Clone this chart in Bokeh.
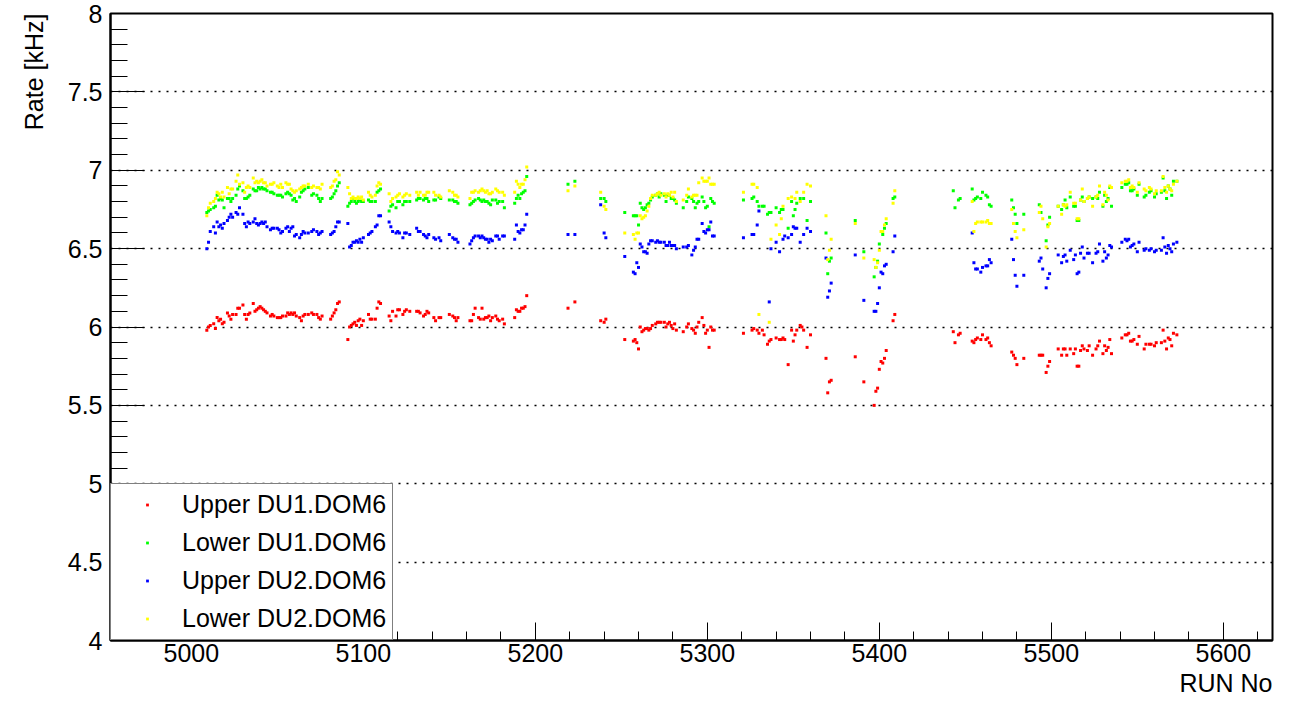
import math
from bokeh.plotting import figure
from bokeh.models import (Range1d, SingleIntervalTicker, NumeralTickFormatter, Title,
                          Legend, LegendItem, ColumnDataSource)
from bokeh.embed import file_html
from bokeh.resources import INLINE

N = None

run_no = [
    5009, 5010, 5011, 5013, 5014, 5015, 5016, 5017, 5018, 5019, 5021, 5022, 5023, 5024, 5026, 5027, 5028, 5030, 5031, 5032,
    5033, 5034, 5036, 5037, 5038, 5039, 5040, 5041, 5042, 5043, 5044, 5046, 5047, 5048, 5050, 5051, 5052, 5053, 5055, 5056,
    5057, 5058, 5059, 5060, 5061, 5063, 5064, 5065, 5066, 5068,
    5070, 5071, 5073, 5074, 5075, 5076,
    5081, 5082, 5083, 5084, 5085, 5086,
    5091, 5092, 5093, 5094, 5095, 5096, 5097, 5098, 5099, 5100,
    5103, 5104, 5105, 5107, 5108, 5109, 5110,
    5115, 5116, 5117, 5119, 5120, 5121, 5123, 5124, 5125, 5127,
    5131, 5132, 5133, 5135, 5136, 5137, 5138,
    5141, 5142, 5144, 5145,
    5150, 5152, 5153, 5154, 5155,
    5162, 5163, 5164, 5165, 5167, 5168, 5169, 5170, 5171, 5172, 5173, 5174, 5175, 5177, 5178, 5179, 5181, 5182,
    5188, 5189, 5190, 5191, 5192, 5193, 5194, 5195,
    5219, 5223,
    5238, 5240, 5241,
    5252, 5257, 5258, 5259, 5260,
    5261, 5262, 5263, 5264, 5265, 5266, 5267, 5268, 5270, 5271, 5272, 5273, 5275, 5276, 5277, 5278, 5279, 5280, 5281, 5282,
    5286, 5288, 5289, 5291, 5292, 5293, 5294, 5295,
    5297, 5298, 5299, 5300, 5301, 5302, 5303, 5304,
    5321, 5326, 5327, 5329, 5330, 5332, 5333, 5335, 5336, 5337, 5340, 5342, 5343, 5344, 5345, 5347, 5349, 5350, 5351, 5352,
    5354, 5355, 5356, 5358, 5360,
    5369, 5370, 5371, 5372,
    5386, 5391,
    5397, 5398, 5399, 5400, 5401, 5402, 5403, 5404, 5408, 5409,
    5443, 5444, 5446, 5447, 5454, 5455, 5456, 5457, 5459, 5460, 5462, 5463, 5464, 5465,
    5477, 5478, 5479, 5480, 5484,
    5493, 5494, 5495, 5497, 5498, 5499, 5504, 5506, 5507, 5508, 5509, 5511, 5513, 5514, 5515, 5516, 5517, 5518, 5519, 5521,
    5522,
    5524, 5526, 5527, 5528, 5530, 5531, 5532, 5533, 5534, 5535, 5541, 5543, 5544, 5545, 5546, 5547, 5548, 5550, 5551, 5554,
    5555, 5557, 5558, 5560, 5561, 5564, 5565, 5566, 5567, 5568, 5569, 5570, 5571, 5573,
]

upper_du1 = [
    5.98, 6.00, 6.01, 6.02, 5.99, 6.06, 6.04, 6.05, 6.02, 6.03, 6.09, 6.07, 6.05, 6.08, 6.08, 6.12, 6.12, 6.14, 6.08, 6.05,
    6.08, 6.09, 6.15, 6.10, 6.11, 6.12, 6.13, 6.12, 6.11, 6.10, 6.09, 6.07, 6.08, 6.07, 6.06, 6.06, 6.06, 6.07, 6.07, 6.09,
    6.08, 6.09, 6.08, 6.09, 6.07, 6.06, 6.04, 6.07, 6.08, 6.08,
    6.09, 6.08, 6.08, 6.06, 6.05, 6.07,
    6.05, 6.07, 6.09, 6.11, 6.15, 6.16,
    5.92, 6.00, 6.01, 6.02, 6.03, 6.01, 6.04, 6.05, 6.01, 6.04,
    6.08, 6.05, 6.05, 6.05, 6.12, 6.16, 6.15,
    6.07, 6.04, 6.10, 6.07, 6.11, 6.11, 6.08, 6.10, 6.11, 6.10,
    6.10, 6.10, 6.09, 6.07, 6.08, 6.10, 6.09,
    6.06, 6.04, 6.06, 6.06,
    6.08, 6.07, 6.06, 6.04, 6.06,
    6.04, 6.04, 6.08, 6.12, 6.06, 6.05, 6.12, 6.05, 6.06, 6.06, 6.07, 6.04, 6.06, 6.07, 6.05, 6.04, 6.05, 6.02,
    6.06, 6.11, 6.10, 6.10, 6.12, 6.12, 6.13, 6.20,
    6.12, 6.16,
    6.04, 6.03, 6.05,
    5.92, 5.91, 5.92, 5.90, 5.86,
    6.00, 5.97, 5.98, 5.99, 5.99, 5.98, 5.99, 6.01, 6.02, 6.03, 6.03, 6.03, 6.03, 6.00, 6.02, 6.03, 6.01, 5.99, 6.02, 5.98,
    5.97, 6.00, 6.02, 5.99, 5.98, 5.96, 6.00, 6.03,
    6.06, 6.01, 5.96, 5.98, 5.87, 6.00, 5.98, 5.98,
    5.96, 5.98, 5.99, 5.98, 5.96, 5.98, 5.95, 5.89, 5.91, 5.92, 5.93, 5.92, 5.92, 5.93, 5.92, 5.76, 5.98, 5.91, 5.95, 5.98,
    6.01, 6.00, 5.98, 5.87, 5.95,
    5.80, 5.58, 5.65, 5.66,
    5.81, 5.65,
    5.50, 5.59, 5.61, 5.73, 5.78, 5.77, 5.80, 5.85, 6.04, 6.08,
    5.97, 5.90, 5.95, 5.96, 5.91, 5.90, 5.92, 5.93, 5.92, 5.95, 5.92, 5.93, 5.90, 5.88,
    5.84, 5.82, 5.80, 5.76, 5.80,
    5.82, 5.82, 5.82, 5.71, 5.75, 5.78, 5.86, 5.82, 5.86, 5.86, 5.82, 5.86, 5.83, 5.86, 5.75, 5.75, 5.85, 5.88, 5.86, 5.85,
    5.88,
    5.82, 5.86, 5.88, 5.91, 5.83, 5.88, 5.85, 5.87, 5.92, 5.83, 5.93, 5.95, 5.95, 5.96, 5.91, 5.91, 5.92, 5.89, 5.94, 5.86,
    5.89, 5.89, 5.89, 5.88, 5.90, 5.90, 5.98, 5.91, 5.86, 5.93, 5.92, 5.88, 5.96, 5.95,
]

lower_du1 = [
    6.73, 6.74, 6.75, 6.76, 6.77, 6.84, 6.81, 6.82, 6.81, 6.76, 6.82, 6.82, 6.80, 6.82, 6.84, 6.88, 6.90, 6.87, 6.82, 6.82,
    6.83, 6.84, 6.88, 6.87, 6.87, 6.89, 6.88, 6.89, 6.88, 6.88, 6.87, 6.86, 6.86, 6.85, 6.84, 6.84, 6.84, 6.83, 6.85, 6.86,
    6.85, 6.84, 6.81, 6.82, 6.80, 6.83, 6.86, 6.87, 6.88, 6.89,
    6.84, 6.85, 6.84, 6.82, 6.80, 6.82,
    6.82, 6.83, 6.85, 6.87, 6.90, 6.92,
    6.77, 6.79, 6.80, 6.82, 6.80, 6.79, 6.80, 6.81, 6.80, 6.80,
    6.81, 6.80, 6.80, 6.80, 6.86, 6.87, 6.88,
    6.74, 6.77, 6.78, 6.76, 6.80, 6.80, 6.78, 6.80, 6.80, 6.80,
    6.81, 6.82, 6.82, 6.81, 6.82, 6.82, 6.80,
    6.81, 6.81, 6.83, 6.82,
    6.81, 6.81, 6.80, 6.80, 6.79,
    6.78, 6.79, 6.80, 6.81, 6.82, 6.81, 6.80, 6.81, 6.80, 6.80, 6.79, 6.78, 6.81, 6.81, 6.79, 6.80, 6.80, 6.76,
    6.79, 6.82, 6.84, 6.82, 6.85, 6.86, 6.87, 6.96,
    6.91, 6.93,
    6.82, 6.82, 6.80,
    6.73, 6.71, 6.71, 6.71, 6.65,
    6.79, 6.76, 6.75, 6.76, 6.78, 6.79, 6.81, 6.83, 6.84, 6.85, 6.83, 6.85, 6.84, 6.80, 6.84, 6.84, 6.82, 6.82, 6.81, 6.79,
    6.76, 6.80, 6.83, 6.82, 6.80, 6.76, 6.79, 6.80,
    6.83, 6.80, 6.76, 6.77, 6.64, 6.82, 6.80, 6.79,
    6.81, 6.82, 6.83, 6.80, 6.77, 6.77, 6.77, 6.72, 6.73, 6.73, 6.76, 6.73, 6.75, 6.75, N, 6.63, 6.80, 6.71, 6.75, 6.79,
    6.82, N, 6.82, 6.68, 6.80,
    6.60, 6.34, 6.42, 6.44,
    6.68, 6.48,
    6.32, 6.38, 6.42, 6.53, N, 6.59, 6.63, 6.66, 6.82, 6.83,
    6.87, 6.76, 6.81, 6.82, 6.88, 6.81, 6.82, 6.83, 6.82, 6.86, 6.84, 6.83, 6.78, 6.77,
    6.81, 6.76, 6.72, 6.66, 6.72,
    6.78, 6.73, N, 6.55, 6.65, 6.70, 6.77, 6.75, 6.78, 6.81, 6.76, 6.83, 6.77, 6.77, 6.68, 6.68, 6.81, 6.83, 6.80, 6.82,
    6.83,
    6.82, 6.83, 6.82, 6.86, 6.77, 6.84, 6.80, 6.82, 6.89, 6.77, 6.89, 6.91, 6.91, 6.92, 6.87, 6.87, 6.88, 6.84, 6.91, 6.83,
    6.84, 6.86, 6.87, 6.83, 6.85, 6.86, 6.95, 6.87, 6.82, 6.90, 6.88, 6.84, 6.93, 6.93,
]

upper_du2 = [
    6.50, 6.54, 6.61, 6.64, 6.60, 6.67, 6.64, 6.65, 6.63, 6.66, 6.68, 6.70, 6.72, 6.70, 6.73, 6.72, 6.76, 6.72, 6.66, 6.64,
    6.67, 6.66, 6.67, 6.69, 6.66, 6.65, 6.66, 6.67, 6.66, 6.67, 6.64, 6.62, 6.63, 6.63, 6.63, 6.62, 6.60, 6.61, 6.63, 6.64,
    6.61, 6.63, 6.64, 6.58, 6.59, 6.57, 6.59, 6.61, 6.60, 6.60,
    6.61, 6.62, 6.61, 6.59, 6.60, 6.61,
    6.59, 6.60, 6.61, 6.64, 6.67, 6.67,
    6.66, 6.51, 6.52, 6.54, 6.54, 6.55, 6.54, 6.56, 6.54, 6.57,
    6.59, 6.60, 6.61, 6.64, 6.65, 6.71, 6.71,
    6.67, 6.64, 6.61, 6.60, 6.61, 6.60, 6.57, 6.60, 6.60, 6.59,
    6.63, 6.61, 6.61, 6.59, 6.58, 6.57, 6.59,
    6.57, 6.56, 6.57, 6.55,
    6.59, 6.57, 6.56, 6.56, 6.54,
    6.53, 6.55, 6.57, 6.58, 6.58, 6.57, 6.58, 6.57, 6.56, 6.56, 6.54, 6.56, 6.55, 6.58, 6.58, 6.56, 6.58, 6.58,
    6.56, 6.65, 6.61, 6.60, 6.62, 6.62, 6.65, 6.72,
    6.59, 6.59,
    6.78, 6.60, 6.57,
    6.45, 6.35, 6.34, 6.41, 6.38,
    6.53, 6.51, 6.48, 6.48, 6.47, 6.53, 6.55, 6.55, 6.54, 6.55, 6.54, 6.54, 6.54, 6.52, 6.52, 6.54, 6.52, 6.52, 6.52, 6.50,
    6.51, 6.51, 6.52, 6.46, 6.49, 6.51, 6.56, 6.56,
    6.66, 6.61, 6.60, 6.62, 6.62, 6.67, 6.58, 6.58,
    6.57, 6.59, 6.59, 6.65, 6.74, N, N, N, 6.16, 6.50, 6.54, 6.48, N, 6.56, 6.58, 6.57, 6.59, 6.64, 6.63, 6.63,
    6.54, N, 6.59, 6.63, 6.61,
    6.44, 6.19, 6.23, 6.28,
    6.46, 6.17,
    6.10, 6.10, 6.15, 6.25, 6.35, 6.34, 6.39, 6.40, 6.48, 6.58,
    N, N, N, N, 6.60, 6.41, 6.37, 6.37, 6.35, 6.38, 6.39, 6.39, 6.43, 6.41,
    6.56, 6.43, 6.33, 6.26, 6.33,
    6.42, 6.44, 6.37, 6.25, 6.31, 6.34, 6.46, 6.41, 6.45, 6.46, 6.42, 6.49, 6.43, 6.46, 6.34, 6.35, 6.47, 6.51, 6.44, 6.47,
    6.47,
    6.41, 6.47, 6.48, 6.53, 6.42, 6.48, 6.44, 6.46, 6.52, 6.51, 6.54, 6.56, 6.55, 6.56, 6.51, 6.52, 6.53, 6.48, 6.54, 6.49,
    6.50, 6.49, 6.50, 6.48, 6.49, 6.49, 6.57, 6.51, 6.47, 6.52, 6.50, 6.48, 6.53, 6.54,
]

lower_du2 = [
    6.71, 6.76, 6.79, 6.80, 6.82, 6.86, 6.85, 6.83, 6.86, 6.83, 6.89, 6.85, 6.88, 6.88, 6.93, 6.97, 6.91, 6.92, 6.86, 6.89,
    6.90, 6.89, 6.95, 6.92, 6.93, 6.92, 6.93, 6.94, 6.92, 6.92, 6.90, 6.91, 6.91, 6.92, 6.90, 6.89, 6.91, 6.89, 6.92, 6.91,
    6.91, 6.88, 6.87, 6.86, 6.87, 6.88, 6.89, 6.90, 6.90, 6.91,
    6.89, 6.90, 6.89, 6.89, 6.88, 6.91,
    6.89, 6.90, 6.93, 6.94, 6.99, 6.97,
    6.89, 6.85, 6.82, 6.83, 6.82, 6.82, 6.83, 6.82, 6.83, 6.81,
    6.86, 6.84, 6.83, 6.84, 6.90, 6.92, 6.91,
    6.85, 6.80, 6.82, 6.83, 6.84, 6.85, 6.83, 6.84, 6.85, 6.84,
    6.86, 6.84, 6.86, 6.84, 6.84, 6.86, 6.86,
    6.86, 6.84, 6.84, 6.83,
    6.87, 6.86, 6.84, 6.84, 6.83,
    6.82, 6.86, 6.86, 6.87, 6.86, 6.87, 6.88, 6.87, 6.86, 6.87, 6.85, 6.85, 6.86, 6.88, 6.87, 6.86, 6.86, 6.84,
    6.86, 6.93, 6.91, 6.89, 6.91, 6.91, 6.94, 7.02,
    6.87, 6.90,
    6.86, 6.77, 6.75,
    6.60, 6.59, 6.56, 6.60, 6.60,
    6.71, 6.69, 6.70, 6.71, 6.74, 6.77, 6.82, 6.84, 6.84, 6.85, 6.86, 6.84, 6.85, 6.83, 6.85, 6.84, 6.86, 6.83, 6.86, 6.80,
    6.81, 6.84, 6.88, 6.83, 6.84, 6.84, 6.84, 6.92,
    6.95, 6.93, 6.93, 6.93, 6.95, 6.91, 6.91, 6.91,
    6.86, 6.91, 6.91, 6.89, 6.08, N, N, N, 6.03, 6.56, 6.65, 6.59, 6.69, 6.77, N, 6.82, 6.83, N, 6.82, 6.86,
    6.80, N, 6.86, 6.91, 6.90,
    6.71, 6.43, 6.49, 6.56,
    6.66, 6.44,
    6.43, 6.38, 6.41, 6.49, 6.61, 6.61, 6.65, 6.69, 6.79, 6.87,
    N, N, N, N, 6.80, 6.61, 6.66, 6.67, 6.67, 6.67, 6.67, 6.68, 6.66, 6.66,
    6.75, 6.66, 6.61, 6.57, 6.62,
    6.73, 6.77, 6.69, 6.51, 6.64, 6.66, 6.77, 6.72, 6.78, 6.77, 6.78, 6.86, 6.79, 6.79, 6.69, 6.69, 6.81, 6.88, 6.80, 6.82,
    6.83,
    6.77, 6.83, 6.84, 6.90, 6.78, 6.86, 6.84, 6.81, 6.90, 6.89, 6.92, 6.93, 6.93, 6.94, 6.89, 6.90, 6.89, 6.86, 6.92, 6.88,
    6.87, 6.89, 6.88, 6.85, 6.87, 6.87, 6.96, 6.89, 6.86, 6.90, 6.88, 6.87, 6.91, 6.93,
]

series_names = ["Upper DU1.DOM6", "Lower DU1.DOM6", "Upper DU2.DOM6", "Lower DU2.DOM6"]
series_values = [upper_du1, lower_du1, upper_du2, lower_du2]
series_colors = ["#ff0000", "#00ff00", "#0000ff", "#ffff00"]

FONT = "Liberation Sans"
FS = "25px"

p = figure(frame_width=1162, frame_height=627,
           x_range=Range1d(4953, 5628.6), y_range=Range1d(4, 8),
           output_backend="svg", toolbar_location=None,
           min_border_left=110, min_border_right=11, min_border_top=13, min_border_bottom=60,
           background_fill_color="white", border_fill_color="white")

p.outline_line_color = "black"
p.outline_line_width = 2

# grid
p.xgrid.visible = False
p.ygrid.grid_line_color = "black"
p.ygrid.grid_line_dash = "2 6"
p.ygrid.grid_line_width = 1.5

# axes
p.xaxis.ticker = SingleIntervalTicker(interval=100, num_minor_ticks=5)
p.yaxis.ticker = SingleIntervalTicker(interval=0.5, num_minor_ticks=5)
p.xaxis.formatter = NumeralTickFormatter(format="0")
p.yaxis.formatter = NumeralTickFormatter(format="0.[0]")
for ax in (p.xaxis, p.yaxis):
    ax.axis_line_width = 2
    ax.axis_line_color = "black"
    ax.major_tick_line_color = "black"
    ax.minor_tick_line_color = "black"
    ax.major_tick_line_width = 1
    ax.minor_tick_line_width = 1
    ax.major_tick_out = 0
    ax.minor_tick_out = 0
    ax.major_label_text_font = FONT
    ax.major_label_text_font_size = FS
    ax.major_label_text_color = "black"
p.yaxis.major_tick_in = 34
p.yaxis.minor_tick_in = 17
p.yaxis.major_label_standoff = 8
p.xaxis.major_tick_in = 18
p.xaxis.minor_tick_in = 9
p.xaxis.major_label_standoff = 3

items = []
for name, vals, col in zip(series_names, series_values, series_colors):
    xs = [r for r, v in zip(run_no, vals) if v is not None]
    ys = [v for v in vals if v is not None]
    src = ColumnDataSource(dict(x=xs, y=ys))
    r = p.scatter("x", "y", source=src, marker="square", size=3,
                  fill_color=col, line_color=None)
    items.append(LegendItem(label=name, renderers=[r]))

legend = Legend(items=items, location="bottom_left", margin=0, padding=6, spacing=9,
                glyph_width=60, glyph_height=7, label_height=29, label_standoff=5,
                label_text_font=FONT, label_text_font_size=FS, label_text_color="black",
                border_line_color="black", border_line_width=1,
                background_fill_color="white", background_fill_alpha=1.0)
p.add_layout(legend)

# axis titles (ROOT style: right aligned at the end of each axis)
p.add_layout(Title(text="Rate [kHz]", align="right", standoff=34,
                   text_font=FONT, text_font_size=FS, text_font_style="normal",
                   text_color="black"), "left")
p.add_layout(Title(text="RUN No", align="right", standoff=5,
                   text_font=FONT, text_font_size=FS, text_font_style="normal",
                   text_color="black"), "below")

open("out.html", "w").write(file_html(p, INLINE))
